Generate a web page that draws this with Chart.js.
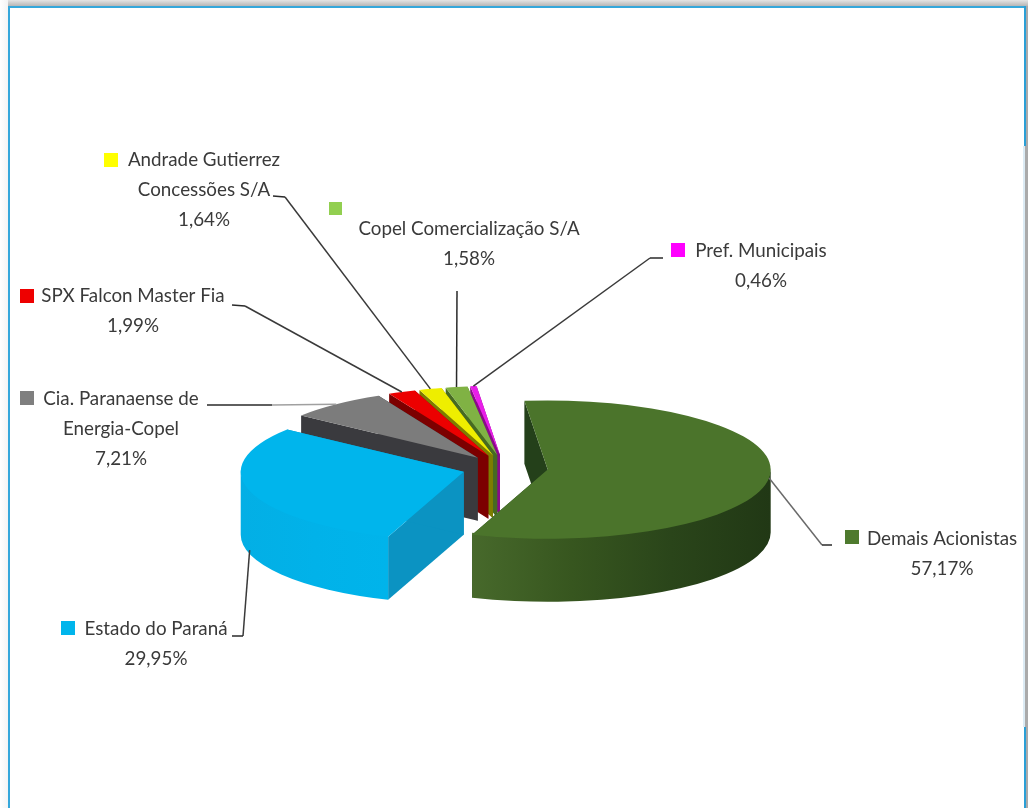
<!DOCTYPE html>
<html>
<head>
<meta charset="utf-8">
<title>Composição acionária</title>
<script src="https://cdn.jsdelivr.net/npm/chart.js@4/dist/chart.umd.js"></script>
<style>
    html, body { margin: 0; padding: 0; background: #fff; }
    #wrap { position: relative; width: 1028px; height: 808px; overflow: hidden; }
    #pieCanvas { position: absolute; left: 0; top: 0; filter: blur(0.6px); }
    .edge { position: absolute; }
    #shadeTop { left: 8px; top: 0; width: 1020px; height: 6px; background: linear-gradient(#e4e4e4, #b6b6b6); }
    #shadeLeft { left: 0; top: 0; width: 8px; height: 808px; background: linear-gradient(90deg, #fff, #f4f4f4); }
    #lineTop { left: 8px; top: 6px; width: 1018px; height: 2px; background: #35a7db; }
    #lineLeft { left: 8px; top: 6px; width: 2px; height: 802px; background: #35a7db; }
    #lineRightA { left: 1024px; top: 6px; width: 2px; height: 140px; background: #2a9fd6; }
    #lineRightB { left: 1024px; top: 727px; width: 2px; height: 81px; background: #2a9fd6; }
    #lineRightMid { left: 1023px; top: 146px; width: 2px; height: 581px; background: #dcebf4; }
    #shadeRight { left: 1025px; top: 6px; width: 3px; height: 802px; background: #aaa; }
</style>
</head>
<body>
<div id="wrap">
    <canvas id="pieCanvas" width="1028" height="808"></canvas>
    <div class="edge" id="shadeTop"></div>
    <div class="edge" id="shadeLeft"></div>
    <div class="edge" id="shadeRight"></div>
    <div class="edge" id="lineRightMid"></div>
    <div class="edge" id="lineTop"></div>
    <div class="edge" id="lineLeft"></div>
    <div class="edge" id="lineRightA"></div>
    <div class="edge" id="lineRightB"></div>
</div>

<script>
// ─── DATA ───
const categories = ['Demais Acionistas', 'Estado do Paraná', 'Cia. Paranaense de Energia-Copel', 'SPX Falcon Master Fia', 'Andrade Gutierrez Concessões S/A', 'Copel Comercialização S/A', 'Pref. Municipais'];
const shares = [57.17, 29.95, 7.21, 1.99, 1.64, 1.58, 0.46];
const labelLines = [
    ['Demais Acionistas'],
    ['Estado do Paraná'],
    ['Cia. Paranaense de', 'Energia-Copel'],
    ['SPX Falcon Master Fia'],
    ['Andrade Gutierrez', 'Concessões S/A'],
    ['Copel Comercialização S/A'],
    ['Pref. Municipais']
];

// ─── STYLE / LAYOUT ───
const topColors = ['#4b742b', '#00b5ec', '#7c7c7c', '#ec0000', '#eeee00', '#80b244', '#e81ee8'];
const keyColors = ['#4e7a2e', '#00b5ec', '#7f7f7f', '#ee0000', '#ffff00', '#92cf50', '#ff00ff'];
const faceColors = ['#24401a', '#0b93c2', '#3a3a3e', '#7c0000', '#7d7d00', '#466a22', '#8a0a8a'];
const curveColors = [
    ['#47692b', '#37561f', '#2a451a', '#213815'],
    ['#03afe5', '#01b2e9', '#00b4eb'],
    ['#3a3a3e'], ['#7c0000'], ['#7d7d00'], ['#466a22'], ['#8a0a8a']
];
const squash = 0.31;    // flattening of the pie
const depth = 63;       // wall height on screen
const explode = 43;
const pieRadius = 223;
const startDeg = -6;

// text centre x, first line y, key square x / y / size
const labelPos = [
    { cx: 942, y: 539, kx: 845, ky: 530, ks: 14 },
    { cx: 156, y: 629, kx: 61,  ky: 621, ks: 14 },
    { cx: 121, y: 399, kx: 20,  ky: 391, ks: 14 },
    { cx: 133, y: 296, kx: 20,  ky: 289, ks: 14 },
    { cx: 204, y: 160, kx: 104, ky: 153, ks: 14 },
    { cx: 469, y: 229, kx: 329, ky: 202, ks: 13 },
    { cx: 761, y: 251, kx: 671, ky: 243, ks: 14 }
];
const lineStep = 30;
// leader: first segment colour, start at wall bottom or not, then the points out to the text
const leaders = [
    { tail: '#6a6a6a', wall: false, pts: [[822, 545], [832, 545]] },
    { tail: '#3a3a3a', wall: true,  pts: [[243, 636], [232, 636]] },
    { tail: '#a0a0a0', wall: false, pts: [[272, 405], [207, 405]] },
    { tail: '#3a3a3a', wall: false, pts: [[245, 306], [232, 305]] },
    { tail: '#3a3a3a', wall: false, pts: [[285, 197], [273, 196]] },
    { tail: '#2a2a2a', wall: false, pts: [[457, 291]] },
    { tail: '#3a3a3a', wall: false, pts: [[650, 258], [663, 258]] }
];

// move the slices apart, the pie offset option also grows the radius
const explodePlugin = {
    id: 'explodePlugin',
    afterDatasetsUpdate(chart) {
        chart.getDatasetMeta(0).data.forEach(arc => {
            const mid = (arc.startAngle + arc.endAngle) / 2;
            arc.x += Math.cos(mid) * explode;
            arc.y += Math.sin(mid) * explode;
        });
    }
};

// flatten the pie and draw the walls under the slices, back to front
const wallsPlugin = {
    id: 'wallsPlugin',
    beforeDatasetsDraw(chart) {
        const ctx = chart.ctx;
        const arcs = chart.getDatasetMeta(0).data;
        const cy = (chart.chartArea.top + chart.chartArea.bottom) / 2;
        const h = depth / squash;
        ctx.save();
        ctx.translate(0, cy);
        ctx.scale(1, squash);
        ctx.translate(0, -cy);
        for (let i = arcs.length - 1; i >= 0; i--) {
            const a = arcs[i];
            const r = a.outerRadius;
            // the two flat cut faces
            ctx.fillStyle = faceColors[i];
            [a.startAngle, a.endAngle].forEach(ang => {
                const ex = a.x + Math.cos(ang) * r;
                const ey = a.y + Math.sin(ang) * r;
                ctx.beginPath();
                ctx.moveTo(a.x, a.y);
                ctx.lineTo(ex, ey);
                ctx.lineTo(ex, ey + h);
                ctx.lineTo(a.x, a.y + h);
                ctx.closePath();
                ctx.fill();
            });
            // the curved outer wall, only the part that faces the viewer
            const from = Math.max(a.startAngle, 0);
            const to = Math.min(a.endAngle, Math.PI);
            if (to <= from) continue;
            const x0 = a.x + Math.cos(to) * r;
            const x1 = a.x + Math.cos(from) * r;
            const grad = ctx.createLinearGradient(x0, 0, x1, 0);
            const stops = curveColors[i];
            stops.forEach((c, k) => grad.addColorStop(stops.length > 1 ? k / (stops.length - 1) : 0, c));
            ctx.fillStyle = grad;
            ctx.beginPath();
            // start a little higher so no pale seam shows under the top
            ctx.arc(a.x, a.y - 2 / squash, r, from, to);
            ctx.arc(a.x, a.y + h, r, to, from, true);
            ctx.closePath();
            ctx.fill();
        }
    },
    afterDatasetsDraw(chart) {
        chart.ctx.restore();
    }
};

// labels, key squares and leader lines
const labelsPlugin = {
    id: 'labelsPlugin',
    afterDraw(chart) {
        const ctx = chart.ctx;
        const arcs = chart.getDatasetMeta(0).data;
        const cy = (chart.chartArea.top + chart.chartArea.bottom) / 2;
        ctx.save();
        ctx.lineWidth = 1.5;
        arcs.forEach((a, i) => {
            const mid = (a.startAngle + a.endAngle) / 2;
            const sx = a.x + Math.cos(mid) * a.outerRadius;
            let sy = cy + (a.y + Math.sin(mid) * a.outerRadius - cy) * squash;
            if (leaders[i].wall) sy += depth - 4;
            let prev = [sx, sy];
            leaders[i].pts.forEach((p, n) => {
                ctx.strokeStyle = n === 0 ? leaders[i].tail : '#2a2a2a';
                ctx.beginPath();
                ctx.moveTo(prev[0], prev[1]);
                ctx.lineTo(p[0], p[1]);
                ctx.stroke();
                prev = p;
            });
        });
        ctx.textAlign = 'center';
        ctx.textBaseline = 'middle';
        ctx.font = '18.8px Lato';
        categories.forEach((name, i) => {
            const pos = labelPos[i];
            ctx.fillStyle = keyColors[i];
            ctx.fillRect(pos.kx, pos.ky, pos.ks, pos.ks);
            ctx.fillStyle = '#3a3a3a';
            const lines = labelLines[i].concat(shares[i].toFixed(2).replace('.', ',') + '%');
            lines.forEach((t, n) => ctx.fillText(t, pos.cx, pos.y + n * lineStep));
        });
        ctx.restore();
    }
};

new Chart(document.getElementById('pieCanvas'), {
    type: 'pie',
    data: {
        labels: categories,
        datasets: [{
            data: shares,
            backgroundColor: topColors,
            borderWidth: 0,
            radius: pieRadius
        }]
    },
    options: {
        responsive: false,
        animation: false,
        events: [],
        rotation: startDeg,
        layout: { padding: { right: 18, top: 128 } },
        plugins: { legend: { display: false }, tooltip: { enabled: false } }
    },
    plugins: [explodePlugin, wallsPlugin, labelsPlugin]
});
</script>
</body>
</html>
